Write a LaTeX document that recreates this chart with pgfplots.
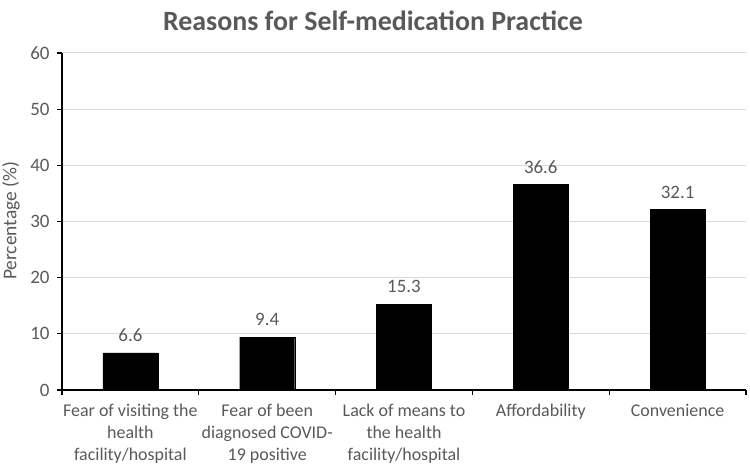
\documentclass[border=0pt]{standalone}
\usepackage{pgfplots}
\pgfplotsset{compat=1.18}
\usepackage{fontspec}
\setmainfont{Carlito}
\definecolor{txt}{HTML}{595959}
\definecolor{gridc}{HTML}{D9D9D9}
\begin{document}
\begin{tikzpicture}[x=1bp,y=1bp]
\useasboundingbox (0,0) rectangle (750,467);
\begin{axis}[
  at={(62bp,77bp)}, anchor=south west,
  scale only axis, width=684bp, height=337bp,
  xmin=-0.5, xmax=4.5, ymin=0, ymax=60,
  axis x line*=bottom, axis y line*=left,
  axis line style={black, line width=1.3bp},
  ytick={0,10,...,60},
  xtick={-0.5,0.5,...,4.5},
  xticklabels={{Fear of visiting the\\health\\facility/hospital},{Fear of been\\diagnosed COVID-\\19 positive},{Lack of means to\\the health\\facility/hospital},{Affordability},{Convenience},{}},
  x tick label style={xshift=68.4bp, yshift=-6bp, align=center, anchor=north, text=txt, font=\fontsize{18}{22}\selectfont},
  y tick label style={text=txt, xshift=-4bp, font=\fontsize{19}{22}\selectfont},
  /pgf/number format/assume math mode=true,
  tick align=outside,
  major tick length=5bp,
  tick style={black, line width=1.2bp},
  ymajorgrids,
  grid style={gridc, line width=1bp},
  ybar, bar width=55bp,
  nodes near coords,
  every node near coord/.append style={text=txt, font=\fontsize{19}{22}\selectfont, inner sep=2bp, yshift=9bp, /pgf/number format/fixed, /pgf/number format/precision=1, /pgf/number format/fixed zerofill},
]
\addplot[fill=black, draw=black] coordinates {(0,6.6) (1,9.4) (2,15.3) (3,36.6) (4,32.1)};
\end{axis}
\node[text=txt, font=\bfseries\fontsize{28}{32}\selectfont] at (373,446) {Reasons for Self-medication Practice};
\node[text=txt, rotate=90, font=\fontsize{19.5}{22}\selectfont] at (11,246) {Percentage (\%)};
\end{tikzpicture}
\end{document}
